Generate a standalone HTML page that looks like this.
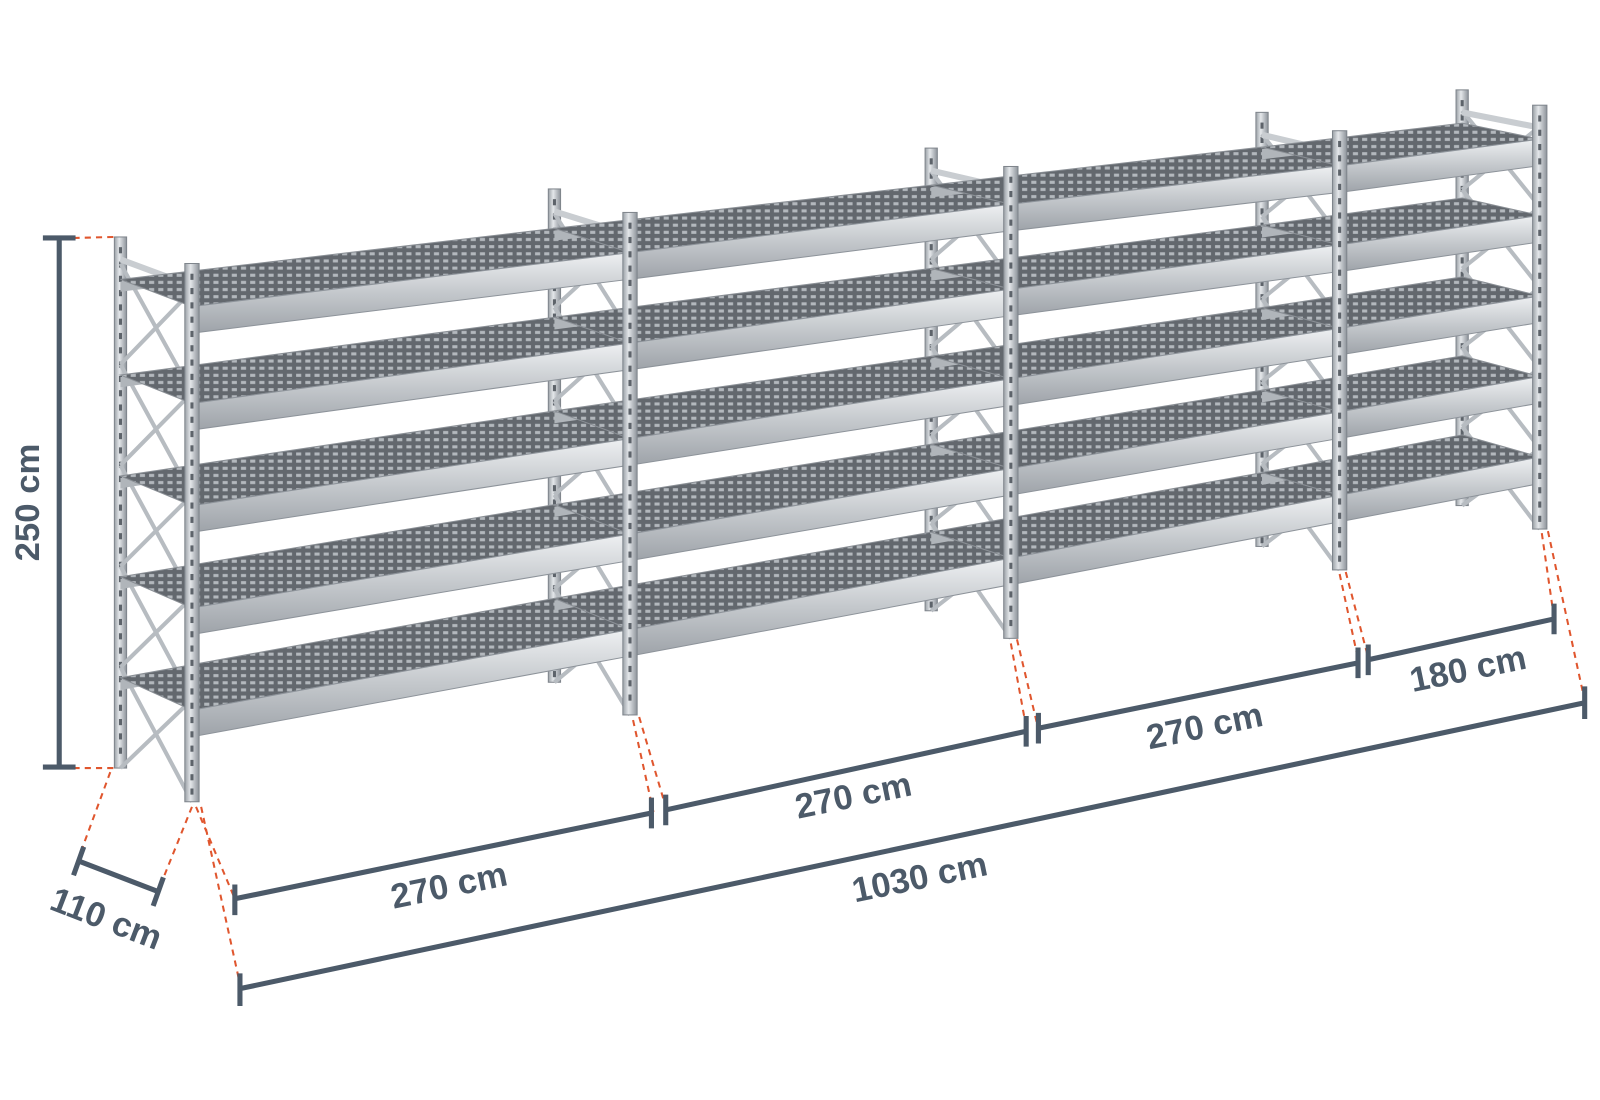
<!DOCTYPE html>
<html><head><meta charset="utf-8">
<style>
html,body{margin:0;padding:0;background:#fff;}
svg{display:block;}
.dim{stroke:#4c5a69;stroke-width:5;fill:none;stroke-linecap:butt}
.red{stroke:#e0562e;stroke-width:2;stroke-dasharray:6,5;fill:none}
.lbl{font-family:"Liberation Sans",sans-serif;font-weight:bold;font-size:34px;fill:#4c5a69}
</style></head>
<body>
<svg id="s" width="1600" height="1100" viewBox="0 0 1567 1077" preserveAspectRatio="none" xmlns="http://www.w3.org/2000/svg">
<defs>
<pattern id="mesh" width="9" height="7" patternUnits="userSpaceOnUse">
<rect width="9" height="7" fill="#63686e"/>
<rect x="2" y="2" width="5" height="3" fill="#b3b8bd"/>
</pattern>
<linearGradient id="up" x1="0" x2="1">
<stop offset="0" stop-color="#9aa0a6"/><stop offset="0.4" stop-color="#e4e7ea"/><stop offset="1" stop-color="#8d939a"/>
</linearGradient>
<linearGradient id="beam" x1="0" y1="0" x2="0" y2="1">
<stop offset="0" stop-color="#eef0f2"/><stop offset="0.5" stop-color="#c4c8cc"/><stop offset="1" stop-color="#9ea3a9"/>
</linearGradient>
</defs>
<g id="rack"></g>

<path class="red" d="M72 233 L112 232 M72 752 L115 752"/>
<path class="dim" d="M58 233 L58 751 M42 233 L74 233 M42 751 L74 751"/>
<text class="lbl" transform="translate(38,492) rotate(-90)" text-anchor="middle">250 cm</text>

<path class="red" d="M108 756 L77 840 M188 790 L155 872"/>
<path class="dim" d="M77 843 L155 873 M82 829 L72 857 M160 859 L150 887"/>
<text class="lbl" transform="translate(100,910) rotate(21)" text-anchor="middle">110 cm</text>

<path class="red" d="M192 790 L230 880 M197 790 L236 968 M620 705 L640 795 M626 702 L652 790 M990 630 L1005 712 M996 626 L1016 710 M1312 562 L1330 645 M1318 560 L1340 644 M1510 522 L1522 605 M1516 520 L1552 686"/>
<path class="dim" d="M230 880 L638 796 M230 866 L230 896 M638 781 L638 811"/>
<path class="dim" d="M652 793 L1005 716 M652 778 L652 808 M1005 701 L1005 731"/>
<path class="dim" d="M1017 713 L1330 649 M1017 698 L1017 728 M1330 634 L1330 664"/>
<path class="dim" d="M1340 646 L1522 606 M1340 631 L1340 661 M1522 591 L1522 621"/>
<path class="dim" d="M235 968 L1552 688 M235 953 L235 985 M1552 672 L1552 704"/>
<text class="lbl" transform="translate(442,878) rotate(-11.7)" text-anchor="middle">270 cm</text>
<text class="lbl" transform="translate(838,790) rotate(-11.7)" text-anchor="middle">270 cm</text>
<text class="lbl" transform="translate(1182,722) rotate(-11.7)" text-anchor="middle">270 cm</text>
<text class="lbl" transform="translate(1440,666) rotate(-11.7)" text-anchor="middle">180 cm</text>
<text class="lbl" transform="translate(903,870) rotate(-11.7)" text-anchor="middle">1030 cm</text>
</svg>
<script>
(function(){
var F=[[188,258,785],[617,208,700],[990,163,625],[1312,128,558],[1508,103,518]];
var B=[[118,232,752],[543,185,668],[912,145,598],[1236,110,535],[1432,88,495]];
var fs=[0.08,0.26,0.45,0.64,0.83];
var g=document.getElementById('rack'),h='';
function Y(p,f){return p[1]+(p[2]-p[1])*f;}
function up(p,w){var s='<rect x="'+(p[0]-w/2)+'" y="'+p[1]+'" width="'+w+'" height="'+(p[2]-p[1])+'" fill="url(#up)" stroke="#7f858c" stroke-width="1"/>';
 for(var y=p[1]+10;y<p[2]-8;y+=14)s+='<rect x="'+(p[0]-1.5)+'" y="'+y+'" width="3" height="6" fill="#5d636a"/>';return s;}
for(var i=0;i<5;i++)h+=up(B[i],12);
for(var i=0;i<5;i++){var a=F[i],b=B[i];
 for(var k=0;k<5;k++){var f1=0.05+k*0.19,f2=f1+0.19;
  h+='<line x1="'+b[0]+'" y1="'+Y(b,f1)+'" x2="'+a[0]+'" y2="'+Y(a,f2)+'" stroke="#b7bcc1" stroke-width="4"/>';
  h+='<line x1="'+b[0]+'" y1="'+Y(b,f2)+'" x2="'+a[0]+'" y2="'+Y(a,f1)+'" stroke="#b7bcc1" stroke-width="4"/>';}
 h+='<line x1="'+b[0]+'" y1="'+(b[1]+22)+'" x2="'+a[0]+'" y2="'+(a[1]+22)+'" stroke="#c9cdd1" stroke-width="6"/>';
}
for(var k=0;k<5;k++){var f=fs[k];
 for(var i=0;i<4;i++){var a=F[i],c=F[i+1],b=B[i],d=B[i+1];
  var ya=Y(a,f),yc=Y(c,f),yb=Y(b,f),yd=Y(d,f);
  h+='<polygon points="'+b[0]+','+(yb+2)+' '+d[0]+','+(yd+2)+' '+d[0]+','+(yd+12)+' '+b[0]+','+(yb+12)+'" fill="#b0b5ba"/>';
  h+='<polygon points="'+a[0]+','+ya+' '+c[0]+','+yc+' '+d[0]+','+yd+' '+b[0]+','+yb+'" fill="url(#mesh)" stroke="#8a8f95"/>';
  h+='<polygon points="'+a[0]+','+ya+' '+c[0]+','+yc+' '+c[0]+','+(yc+26)+' '+a[0]+','+(ya+26)+'" fill="url(#beam)" stroke="#8d939a" stroke-width="1"/>';
 }}
for(var i=0;i<5;i++)h+=up(F[i],14);
g.innerHTML=h;
})();
</script>
</body></html>
